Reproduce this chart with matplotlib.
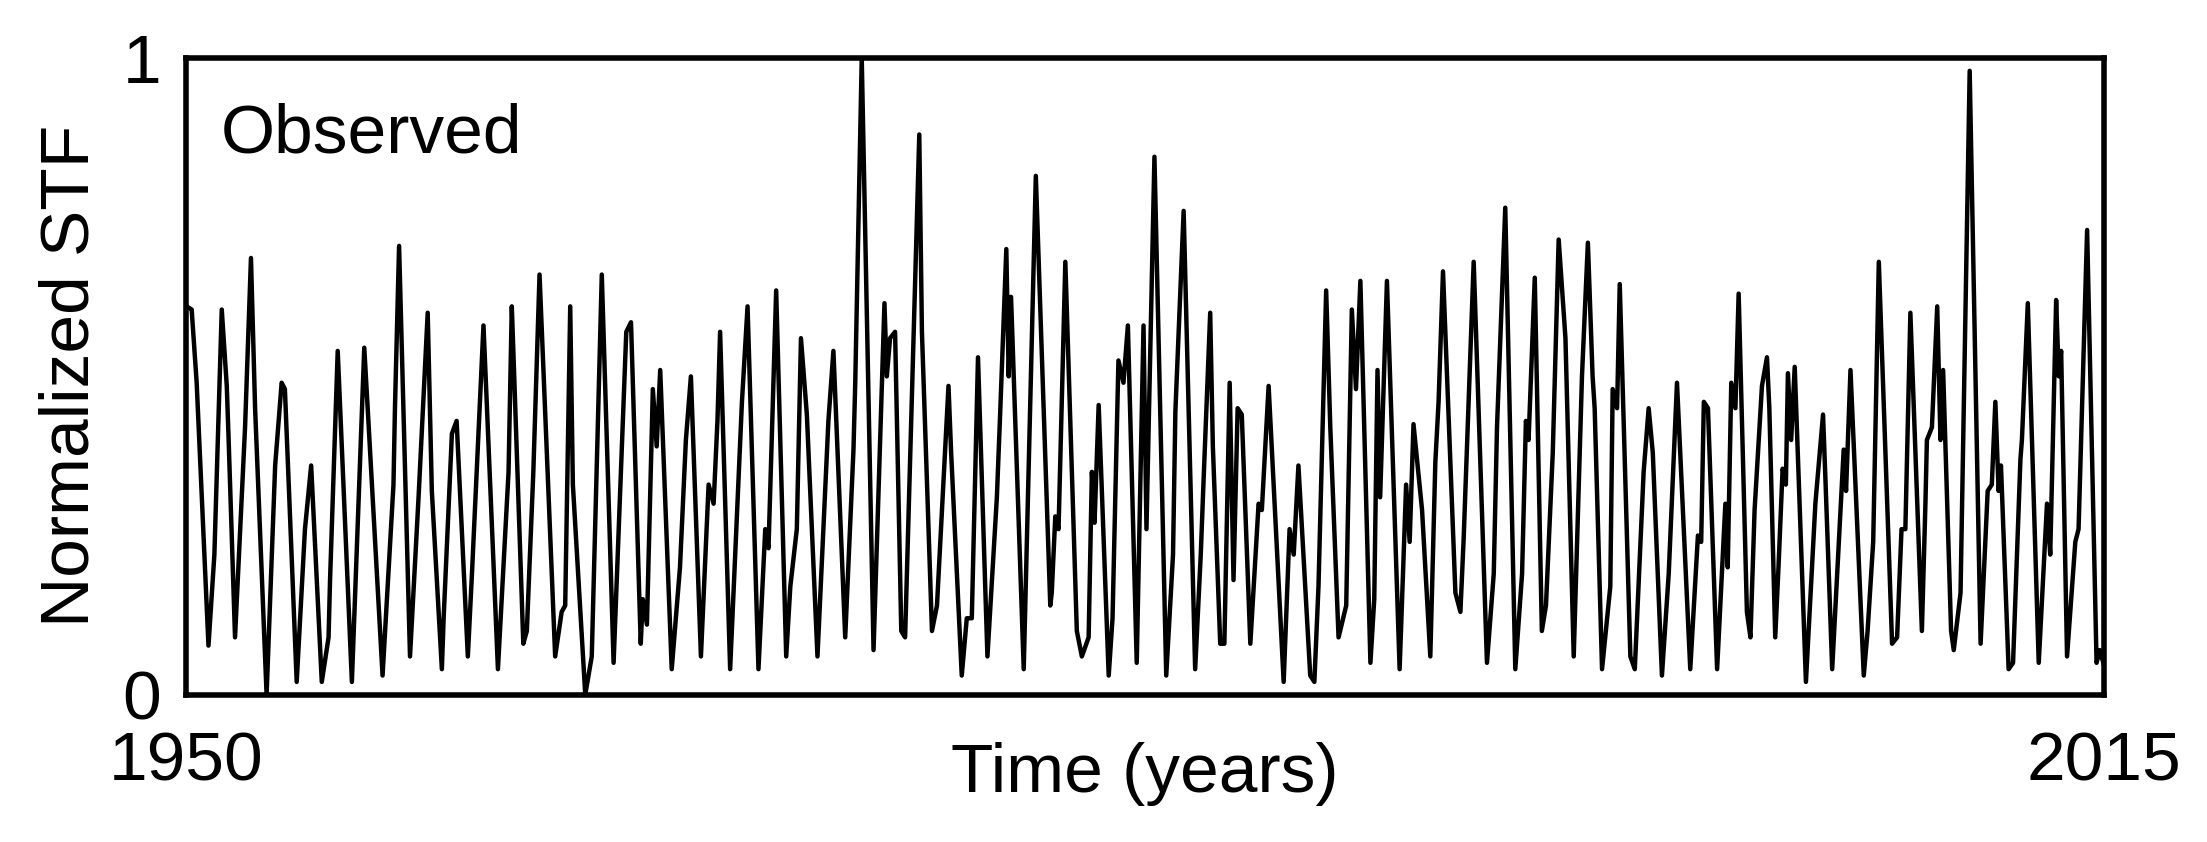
import numpy as np
import matplotlib.pyplot as plt

plt.rcParams['font.family'] = ['Liberation Sans', 'DejaVu Sans']

# years since 1950 at the turning points of the curve
yrs = [
    0.02, 0.19, 0.36, 0.76, 0.96, 1.21, 1.38, 1.44, 1.66, 2.0, 2.2, 2.34, 2.73,
    3.02, 3.24, 3.35, 3.75, 4.03, 4.24, 4.6, 4.83, 4.88, 5.14, 5.62, 6.04, 6.18,
    6.66, 7.03, 7.08, 7.22, 7.59, 7.88, 8.19, 8.33, 8.67, 8.73, 9.01, 9.17, 9.55,
    9.69, 10.08, 10.19, 10.57, 10.93, 11.04, 11.1, 11.43, 11.55, 11.77, 11.98,
    12.51, 12.73, 12.85, 13.02, 13.11, 13.53, 13.75, 14.09, 14.49, 14.92, 15.08,
    15.41, 15.48, 15.62, 15.82, 15.95, 16.07, 16.46, 16.74, 16.94, 17.11, 17.45,
    17.71, 17.88, 18.01, 18.10, 18.44, 18.84, 19.03, 19.40, 19.63, 19.74, 20.0,
    20.34, 20.48, 20.70, 20.84, 21.04, 21.40, 21.77, 21.94, 22.34, 22.62, 22.68,
    22.9, 23.3, 23.67, 23.75, 23.86, 24.03, 24.24, 24.37, 24.85, 24.94, 25.28,
    25.45, 25.84, 25.93, 26.29, 26.46, 26.63, 26.84, 27.16, 27.48, 27.59, 27.80,
    27.88, 27.96, 28.39, 28.80, 29.29, 29.34, 29.46, 29.57, 29.80, 30.19, 30.36,
    30.59, 30.70, 30.79, 30.93, 31.27, 31.40, 31.60, 31.77, 31.92, 32.22, 32.45,
    32.55, 32.82, 33.22, 33.45, 33.53, 33.81, 34.20, 34.39, 34.48, 34.71, 34.80,
    35.05, 35.19, 35.37, 35.50, 35.64, 35.78, 36.07, 36.35, 36.46, 36.69, 37.2,
    37.40, 37.54, 37.70, 38.10, 38.24, 38.38, 38.64, 38.78, 39.06, 39.32, 39.51,
    39.65, 39.80, 40.14, 40.27, 40.38, 40.47, 40.70, 41.13, 41.35, 41.47, 41.60,
    41.89, 42.17, 42.34, 42.45, 42.60, 43.02, 43.19, 43.30, 43.64, 44.09, 44.32,
    44.43, 44.71, 45.05, 45.28, 45.41, 45.50, 45.71, 45.95, 46.09, 46.32, 46.52,
    46.75, 47.03, 47.31, 47.51, 47.67, 47.74, 47.99, 48.27, 48.35, 48.50, 48.59,
    48.95, 49.10, 49.40, 49.57, 49.71, 50.02, 50.25, 50.53, 50.98, 51.24, 51.35,
    51.44, 51.58, 51.89, 52.17, 52.25, 52.37, 52.51, 52.62, 52.90, 53.02, 53.16,
    53.41, 53.58, 53.66, 53.86, 53.97, 54.11, 54.22, 54.29, 54.40, 54.52, 54.90,
    55.22, 55.48, 55.56, 55.79, 56.18, 56.26, 56.41, 56.86, 56.99, 57.18, 57.37,
    57.82, 57.99, 58.14, 58.27, 58.44, 58.83, 58.95, 59.0, 59.17, 59.35, 59.46,
    59.55, 59.82, 59.91, 60.14, 60.45, 60.82, 61.06, 61.2, 61.32, 61.43, 61.51,
    61.77, 61.92, 62.17, 62.22, 62.42, 62.79, 63.07, 63.18, 63.38, 63.47, 63.55,
    63.75, 63.86, 64.03, 64.14, 64.43, 64.75, 64.86, 64.98,
]

stf = [
    0.61, 0.605, 0.49, 0.077, 0.22, 0.605, 0.485, 0.405, 0.09, 0.42, 0.686, 0.45, 0.0,
    0.36, 0.49, 0.48, 0.02, 0.26, 0.36, 0.02, 0.09, 0.18, 0.54, 0.02, 0.545, 0.43,
    0.03, 0.33, 0.45, 0.705, 0.06, 0.31, 0.6, 0.32, 0.04, 0.12, 0.41, 0.43, 0.06,
    0.19, 0.58, 0.46, 0.04, 0.35, 0.61, 0.53, 0.08, 0.1, 0.35, 0.66,
    0.06, 0.13, 0.14, 0.61, 0.33, 0.0, 0.06, 0.66, 0.05, 0.57, 0.585,
    0.08, 0.15, 0.11, 0.48, 0.39, 0.51, 0.04, 0.2, 0.4, 0.5, 0.06,
    0.33, 0.3, 0.43, 0.57, 0.04, 0.46, 0.61, 0.04, 0.26, 0.23, 0.635,
    0.06, 0.17, 0.26, 0.56, 0.44, 0.06, 0.43, 0.54, 0.09, 0.385, 0.49,
    1.0, 0.07, 0.615, 0.5, 0.56, 0.57, 0.1, 0.09, 0.88, 0.57, 0.1,
    0.14, 0.485, 0.38, 0.03, 0.12, 0.12, 0.53, 0.06, 0.31, 0.44, 0.70,
    0.5, 0.625, 0.04, 0.815, 0.14, 0.16, 0.28, 0.26, 0.68, 0.1, 0.06,
    0.09, 0.35, 0.27, 0.455, 0.03, 0.12, 0.525, 0.49, 0.58, 0.05, 0.58,
    0.26, 0.845, 0.03, 0.22, 0.445, 0.76, 0.04, 0.22, 0.33, 0.6, 0.39,
    0.08, 0.08, 0.49, 0.18, 0.45, 0.44, 0.08, 0.3, 0.29, 0.485, 0.02,
    0.26, 0.22, 0.36, 0.03, 0.02, 0.17, 0.635, 0.42, 0.09, 0.14, 0.605,
    0.48, 0.65, 0.05, 0.15, 0.51, 0.31, 0.65, 0.04, 0.33, 0.24, 0.425,
    0.29, 0.06, 0.365, 0.46, 0.665, 0.16, 0.13, 0.245, 0.68, 0.05, 0.19,
    0.42, 0.765, 0.04, 0.19, 0.43, 0.4, 0.655, 0.1, 0.14, 0.38, 0.715,
    0.56, 0.06, 0.5, 0.71, 0.5, 0.45, 0.04, 0.17, 0.48, 0.45, 0.645,
    0.06, 0.04, 0.35, 0.45, 0.38, 0.03, 0.19, 0.49, 0.04, 0.25, 0.24,
    0.46, 0.45, 0.04, 0.3, 0.2, 0.49, 0.45, 0.63, 0.13, 0.09, 0.29,
    0.485, 0.53, 0.45, 0.09, 0.2, 0.355, 0.33, 0.505, 0.4, 0.515, 0.02,
    0.3, 0.44, 0.34, 0.04, 0.385, 0.32, 0.51, 0.03, 0.1, 0.24, 0.68,
    0.08, 0.09, 0.26, 0.26, 0.6, 0.1, 0.3, 0.4, 0.42, 0.61, 0.4,
    0.51, 0.1, 0.07, 0.16, 0.98, 0.08, 0.32, 0.33, 0.46, 0.32, 0.36,
    0.04, 0.05, 0.37, 0.4, 0.615, 0.05, 0.3, 0.22, 0.62, 0.5, 0.54,
    0.06, 0.13, 0.24, 0.26, 0.73, 0.05, 0.07, 0.05,
]

t = 1950 + np.array(yrs)

fig = plt.figure(figsize=(22.07, 8.42), dpi=100)
ax = fig.add_axes([0.0843, 0.175, 0.869, 0.756])

ax.plot(t, stf, color='black', lw=3.2)

ax.set_xlim(1950, 2015)
ax.set_ylim(0, 1)
ax.set_xticks([1950, 2015])
ax.set_yticks([0, 1])
ax.tick_params(length=0, labelsize=50)
ax.tick_params(axis='x', pad=26)
ax.tick_params(axis='y', pad=18)
for s in ax.spines.values():
    s.set_linewidth(4)

ax.set_ylabel('Normalized STF', fontsize=50, labelpad=14)
ax.set_xlabel('Time (years)', fontsize=50)
ax.xaxis.set_label_coords(0.5, -0.075)

ax.text(0.018, 0.93, 'Observed', transform=ax.transAxes, fontsize=50, va='top')

fig.savefig('out.png', dpi=100)
